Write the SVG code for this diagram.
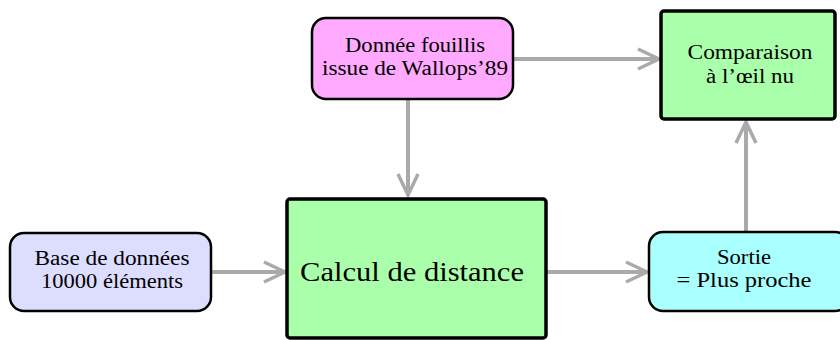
<svg xmlns="http://www.w3.org/2000/svg" width="840" height="340" viewBox="0 0 840 340">
<style>
  .rbox { stroke: #000; stroke-width: 2.5; }
  .sbox { stroke: #000; stroke-width: 3.5; }
  .t { font-family: "Liberation Serif", "Times New Roman", serif; font-size: 20px; fill: #000; text-anchor: middle; }
  .big { font-size: 28px; }
  .conn { fill: none; stroke: #aaaaaa; stroke-width: 4; marker-end: url(#arr); }
</style>
<defs>
  <marker id="arr" markerUnits="userSpaceOnUse" viewBox="-26 -14 30 28" markerWidth="30" markerHeight="28" refX="0" refY="0" orient="auto">
    <path d="M-21,-10 L0,0 L-21,10" fill="none" stroke="#aaaaaa" stroke-width="3.5" stroke-linejoin="miter"/>
  </marker>
</defs>
<rect width="840" height="340" fill="#ffffff"/>
<g id="connectors">
  <path class="conn" d="M211,272 L285,272"/>
  <path class="conn" d="M546,272 L647,272"/>
  <path class="conn" d="M513,59 L659,59"/>
  <path class="conn" d="M408,99 L408,195"/>
  <path class="conn" d="M746,232 L746,122"/>
</g>
<g id="donnee">
  <rect class="rbox" x="312" y="18" width="201" height="81" rx="14" fill="#ffaaff"/>
  <text class="t" x="415" y="52" textLength="140" lengthAdjust="spacingAndGlyphs">Donnée fouillis</text>
  <text class="t" x="415" y="75" textLength="186" lengthAdjust="spacingAndGlyphs">issue de Wallops’89</text>
</g>
<g id="comparaison">
  <rect class="sbox" x="661" y="11" width="174" height="108" rx="3" fill="#aaffaa"/>
  <text class="t" x="750" y="59" textLength="125" lengthAdjust="spacingAndGlyphs">Comparaison</text>
  <text class="t" x="750" y="83" textLength="88" lengthAdjust="spacingAndGlyphs">à l’œil nu</text>
</g>
<g id="base">
  <rect class="rbox" x="10" y="233" width="201" height="78" rx="14" fill="#ddddff"/>
  <text class="t" x="112" y="265" textLength="155" lengthAdjust="spacingAndGlyphs">Base de données</text>
  <text class="t" x="112" y="288" textLength="142" lengthAdjust="spacingAndGlyphs">10000 éléments</text>
</g>
<g id="calcul">
  <rect class="sbox" x="287" y="199" width="259" height="139" rx="3" fill="#aaffaa"/>
  <text class="t big" x="412" y="281" textLength="224" lengthAdjust="spacingAndGlyphs">Calcul de distance</text>
</g>
<g id="sortie">
  <rect class="rbox" x="649" y="232" width="200" height="79" rx="14" fill="#aaffff"/>
  <text class="t" x="744" y="264" textLength="54" lengthAdjust="spacingAndGlyphs">Sortie</text>
  <text class="t" x="744" y="287" textLength="135" lengthAdjust="spacingAndGlyphs">= Plus proche</text>
</g>
</svg>
